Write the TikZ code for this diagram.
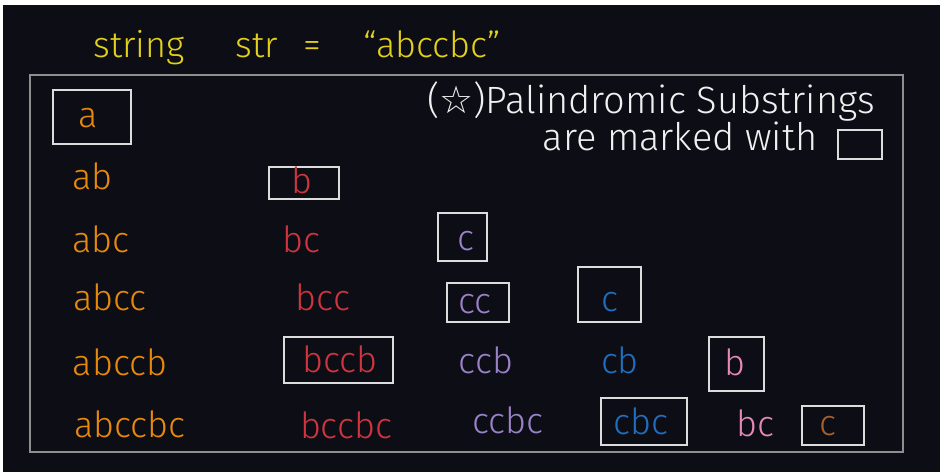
\documentclass[tikz,border=0pt]{standalone}
\usepackage{fontspec}
\setmainfont{Fira Sans}[UprightFont={* Light}]
\newfontfamily\symfont{DejaVu Sans}
\definecolor{bg}{HTML}{0D0E15}
\definecolor{framec}{HTML}{8E8E8E}
\definecolor{boxc}{HTML}{DCDCDC}
\definecolor{corange}{HTML}{E8890C}
\definecolor{cred}{HTML}{D0343E}
\definecolor{cpurple}{HTML}{9A82C8}
\definecolor{cblue}{HTML}{1F6EBF}
\definecolor{cpink}{HTML}{E48AB4}
\definecolor{cbrown}{HTML}{A8602A}
\definecolor{cyellow}{HTML}{E3D01C}
\definecolor{cwhite}{HTML}{F0F0F0}
\begin{document}
\begin{tikzpicture}[x=1pt,y=-1pt,
  lbl/.style={inner sep=0pt, anchor=base, font=\fontsize{36}{40}\selectfont},
  ttl/.style={inner sep=0pt, anchor=base, text=cyellow, font=\fontsize{36}{40}\selectfont},
  note/.style={inner sep=0pt, anchor=base, text=cwhite, font=\fontsize{38}{42}\selectfont},
  pbox/.style={draw=boxc, line width=1.8pt, inner sep=0pt, rectangle}]
\useasboundingbox (0,0) rectangle (945,475);
\fill[white] (0,0) rectangle (945,475);
\fill[bg] (3,5) rectangle (940,472);
% frame
\node[draw=framec, line width=1.8pt, inner sep=0pt, minimum width=873pt, minimum height=377pt] (frame) at (466.5,263.5) {};
% title
\node[ttl] (t1) at (139,57) {string};
\node[ttl] (t2) at (257,57) {str};
\node[ttl] (t3) at (312,57) {=};
\node[ttl] (t4) at (432,57) {“abccbc”};
% legend
\node[note] (n1) at (651,113) {({\symfont☆})Palindromic Substrings};
\node[note] (n2) at (680,150) {are marked with};
\node[pbox, minimum width=44pt, minimum height=29pt] (legbox) at (860,144.5) {};
% boxes
\node[pbox, minimum width=78pt, minimum height=54pt] (ba) at (92,117) {};
\node[pbox, minimum width=70pt, minimum height=32pt] (bb) at (304,183) {};
\node[pbox, minimum width=49pt, minimum height=48pt] (bc1) at (462.5,237) {};
\node[pbox, minimum width=62pt, minimum height=39pt] (bcc) at (478,302.5) {};
\node[pbox, minimum width=63pt, minimum height=55pt] (bc2) at (609.5,294.5) {};
\node[pbox, minimum width=109pt, minimum height=46pt] (bbccb) at (338.5,360) {};
\node[pbox, minimum width=55pt, minimum height=54pt] (bb2) at (736.5,364) {};
\node[pbox, minimum width=86pt, minimum height=47pt] (bcbc) at (644,421.5) {};
\node[pbox, minimum width=62pt, minimum height=39pt] (bc3) at (833,425.5) {};
% column 1 (orange)
\node[lbl, text=corange] (s1) at (88,127) {a};
\node[lbl, text=corange] (s2) at (92.5,189) {ab};
\node[lbl, text=corange] (s3) at (101,252) {abc};
\node[lbl, text=corange] (s4) at (110,310) {abcc};
\node[lbl, text=corange] (s5) at (120,375) {abccb};
\node[lbl, text=corange] (s6) at (130,437) {abccbc};
% column 2 (red)
\node[lbl, text=cred] (r1) at (302,193) {b};
\node[lbl, text=cred] (r2) at (301,252) {bc};
\node[lbl, text=cred] (r3) at (323,310) {bcc};
\node[lbl, text=cred] (r4) at (340,372) {bccb};
\node[lbl, text=cred] (r5) at (346,438) {bccbc};
% column 3 (purple)
\node[lbl, text=cpurple] (p1) at (466,250) {c};
\node[lbl, text=cpurple] (p2) at (475,313) {cc};
\node[lbl, text=cpurple] (p3) at (486,373) {ccb};
\node[lbl, text=cpurple] (p4) at (508,433) {ccbc};
% column 4 (blue)
\node[lbl, text=cblue] (u1) at (610,311) {c};
\node[lbl, text=cblue] (u2) at (620,373) {cb};
\node[lbl, text=cblue] (u3) at (641,434) {cbc};
% column 5 (pink)
\node[lbl, text=cpink] (k1) at (735,375) {b};
\node[lbl, text=cpink] (k2) at (755,436) {bc};
% column 6 (brown)
\node[lbl, text=cbrown] (w1) at (828,435) {c};
\end{tikzpicture}
\end{document}
